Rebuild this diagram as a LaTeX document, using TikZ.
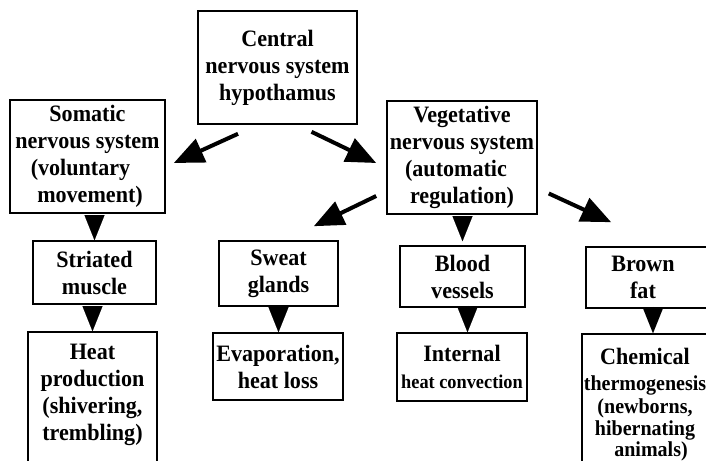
\documentclass[tikz,border=0pt]{standalone}
\usepackage{fontspec}
\setmainfont{Liberation Serif}[FakeStretch=0.94]
\usetikzlibrary{arrows.meta,calc}

\newcommand{\smalltxt}{\fontsize{21.3}{27}\selectfont}

\tikzset{
  x=1pt, y=-1pt,
  box/.style={draw, line width=1.6pt, inner sep=0pt, align=center,
              font=\bfseries\fontsize{23.5}{27}\selectfont},
  txt/.style={inner sep=0pt, align=center,
              font=\bfseries\fontsize{23.5}{27}\selectfont},
  diag/.style={line width=4pt, -{Triangle[length=30pt,width=25pt]}},
  drop/.style={line width=0.01pt, shorten <=2pt, -{Triangle[length=25pt,width=20pt]}},
}

\begin{document}
\begin{tikzpicture}
\useasboundingbox (0,0) rectangle (706,460);
\clip (0,0) rectangle (706,460);

% top level
\node[box, minimum width=159pt, minimum height=113pt] (cns) at (277.5,67.5)
  {Central\\nervous system\\hypothamus};

% second level
\node[box, minimum width=155pt, minimum height=113pt] (som) at (87.5,156.5)
  {Somatic\\nervous system\\(voluntary\kern14pt\\\kern5pt movement)};
\node[box, minimum width=150pt, minimum height=113pt] (veg) at (462,157.5)
  {Vegetative\\nervous system\\(automatic\kern12pt\\regulation)};

% effectors
\node[box, minimum width=123pt, minimum height=63pt] (str) at (94.5,272.5)
  {Striated\\muscle};
\node[box, minimum width=119pt, minimum height=65pt] (swe) at (278.5,273.5)
  {Sweat\\glands};
\node[box, minimum width=125pt, minimum height=61pt] (blo) at (462.5,276.5)
  {Blood\\vessels};
\node[box, minimum width=134pt, minimum height=61pt] (bro) at (653,277.5) {};
\node[txt] (broT) at (643,277.5) {Brown\\fat};

% effects
\node[box, minimum width=129pt, minimum height=148pt] (heat) at (92.5,406) {};
\node[txt, anchor=north] (heatT) at ($(heat.north)+(0,13)$)
  {Heat\\production\\(shivering,\\trembling)};
\node[box, minimum width=130pt, minimum height=67pt] (eva) at (278,366.5)
  {Evaporation,\\heat loss};
\node[box, minimum width=130pt, minimum height=68pt] (int) at (462,367)
  {Internal\\\fontsize{19.5}{27}\selectfont heat convection};
\node[box, minimum width=142pt, minimum height=156pt] (chem) at (653,412) {};
\node[txt, anchor=north] (chemT) at ($(chem.north)+(-8,15)$)
  {Chemical\\[-1pt]\smalltxt thermogenesis\\[-4pt]\smalltxt (newborns,\\[-5pt]\smalltxt hibernating\\[-6pt]\smalltxt\kern12pt animals)};

% diagonal connectors
\draw[diag] ($(cns.south)+(-39.5,9)$) -- ($(som.east)+(8,6.5)$);
\draw[diag] ($(cns.south)+(34,7)$) -- ($(veg.west)+(-10,5.5)$);
\draw[diag] ($(veg.west)+(-10,38.5)$) -- ($(swe.north east)+(-25,-14)$);
\draw[diag] ($(veg.east)+(11,36)$) -- ($(bro.north west)+(26,-24)$);

% vertical connectors
\draw[drop] (som.south -| str.north) -- (str.north);
\draw[drop] (str.south -| heat.north) -- (heat.north);
\draw[drop, shorten >=4pt] (veg.south -| blo.north) -- (blo.north);
\draw[drop] (swe.south) -- (swe.south |- eva.north);
\draw[drop] ([xshift=5pt]blo.south) -- ([xshift=5pt]blo.south |- int.north);
\draw[drop] (bro.south) -- (chem.north);
\end{tikzpicture}
\end{document}
